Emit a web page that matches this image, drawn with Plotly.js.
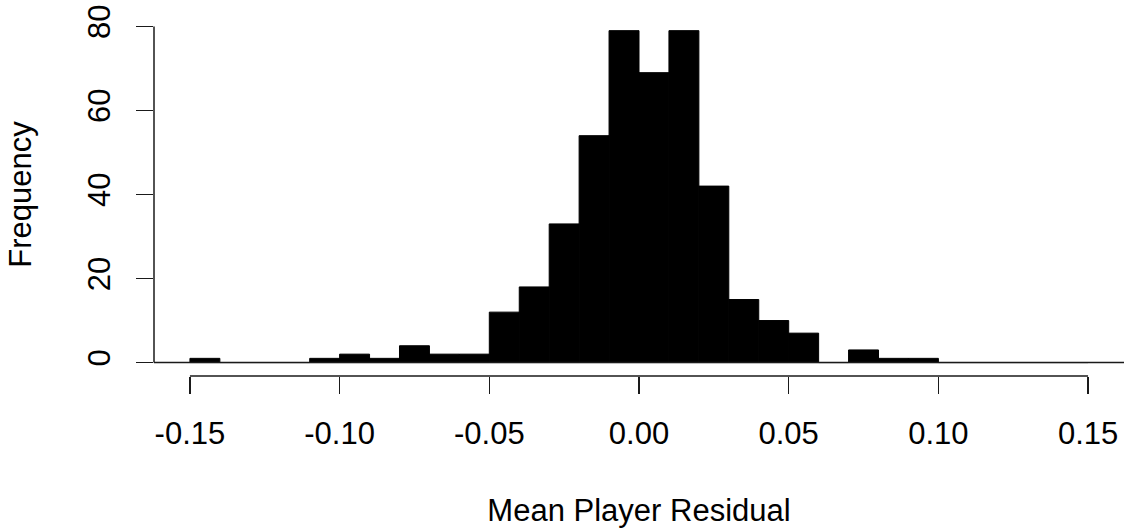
<!DOCTYPE html>
<html>
<head>
<meta charset="utf-8">
<script src="https://cdn.plot.ly/plotly-3.0.1.min.js"></script>
<style>html,body{margin:0;padding:0;background:#fff;}#chart{width:1125px;height:528px;}</style>
</head>
<body>
<div id="chart"></div>
<script>
// Histogram bins (left edges) and counts
var binStarts = [-0.15,-0.14,-0.13,-0.12,-0.11,-0.10,-0.09,-0.08,-0.07,-0.06,
                 -0.05,-0.04,-0.03,-0.02,-0.01,0.00,0.01,0.02,0.03,0.04,
                 0.05,0.06,0.07,0.08,0.09,0.10,0.11,0.12,0.13,0.14];
var counts = [1,0,0,0,1,2,1,4,2,2,
              12,18,33,54,79,69,79,42,15,10,
              7,0,3,1,1,0,0,0,0,0];
var binWidth = 0.01;
var xTicks = [-0.15,-0.10,-0.05,0.00,0.05,0.10,0.15];
var xTickLabels = ["-0.15","-0.10","-0.05","0.00","0.05","0.10","0.15"];
var yTicks = [0,20,40,60,80];
var yTickLabels = ["0","20","40","60","80"];

var FONT = "Liberation Sans, Arial, sans-serif";
var FS = 31;
var AXC = "#1a1a1a";

var trace = {
  type: "bar",
  x: binStarts,
  y: counts,
  width: binStarts.map(function(){return binWidth;}),
  offset: 0,
  marker: {color: "#000000", line: {color: "#000000", width: 1}},
  hoverinfo: "x+y"
};

var layout = {
  width: 1125, height: 528,
  margin: {l: 154, r: 1, t: 13, b: 152, pad: 0},
  paper_bgcolor: "#ffffff", plot_bgcolor: "#ffffff",
  showlegend: false,
  bargap: 0,
  font: {family: FONT, size: FS, color: "#000000"},
  xaxis: {
    range: [-0.162, 0.162],
    tickmode: "array", tickvals: xTicks, ticktext: xTickLabels,
    ticks: "outside", ticklen: 17, tickwidth: 1.5, tickcolor: AXC,
    showline: false, showgrid: false, zeroline: false,
    tickfont: {family: FONT, size: FS, color: "#000000"},
    ticklabelstandoff: 13,
    title: {text: "Mean Player Residual", font: {family: FONT, size: FS, color: "#000000"}, standoff: 50},
    fixedrange: true
  },
  yaxis: {
    range: [-3.2, 83.2],
    tickmode: "array", tickvals: yTicks, ticktext: yTickLabels,
    ticks: "outside", ticklen: 17, tickwidth: 1.5, tickcolor: AXC,
    tickangle: -90,
    showline: false, showgrid: false, zeroline: false,
    tickfont: {family: FONT, size: FS, color: "#000000"},
    ticklabelstandoff: 14,
    title: {text: "Frequency", font: {family: FONT, size: FS, color: "#000000"}, standoff: 40},
    fixedrange: true
  },
  shapes: [
    // x axis line spanning first to last tick (R style)
    {type: "line", xref: "x", yref: "paper", x0: xTicks[0], x1: xTicks[xTicks.length-1], y0: 0, y1: 0,
     line: {color: AXC, width: 1.5}},
    // y axis line spanning first to last tick
    {type: "line", xref: "paper", yref: "y", x0: 0, x1: 0, y0: yTicks[0], y1: yTicks[yTicks.length-1],
     line: {color: AXC, width: 1.5}},
    // baseline at zero across plot region
    {type: "line", xref: "paper", yref: "y", x0: 0, x1: 1, y0: 0, y1: 0,
     line: {color: AXC, width: 1.5}, layer: "above"}
  ]
};

Plotly.newPlot("chart", [trace], layout, {displayModeBar: false, staticPlot: true});
</script>
</body>
</html>
